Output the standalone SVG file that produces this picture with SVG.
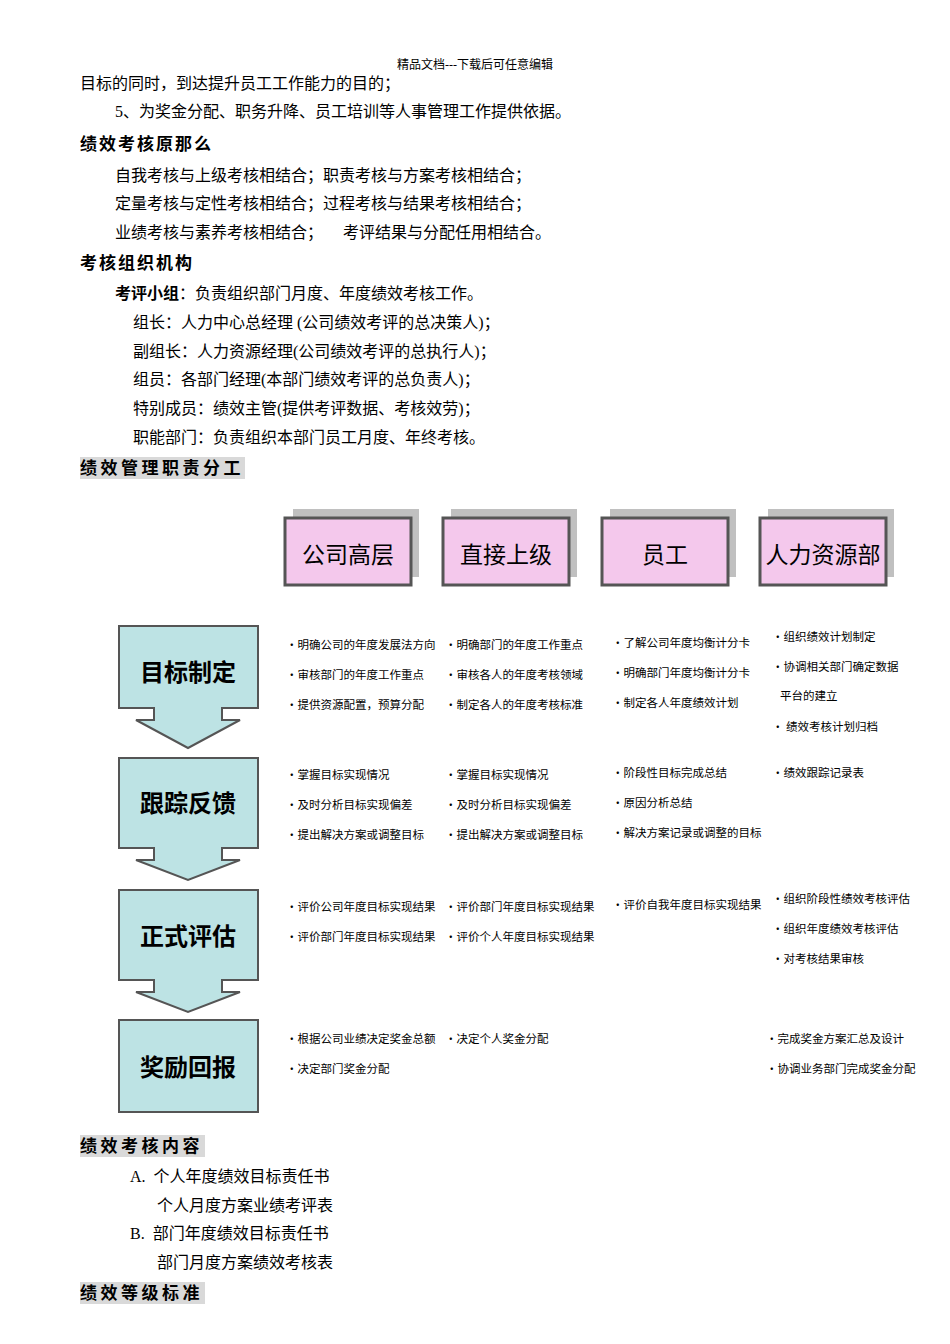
<svg xmlns="http://www.w3.org/2000/svg" width="950" height="1344" viewBox="0 0 950 1344">
<style>
.t{font-family:"Liberation Serif","Noto Sans CJK SC",serif;font-size:16px;fill:#000}
.h{font-family:"Noto Sans CJK SC",sans-serif;font-size:17px;font-weight:bold;fill:#000;letter-spacing:2px}
.s{font-family:"Noto Sans CJK SC",sans-serif;font-size:11.5px;fill:#000}
.hd{fill:#f4c8ec;stroke:#555;stroke-width:3}
.sh{fill:#c0c0c0}
.ht{font-family:"Noto Sans CJK SC",sans-serif;font-size:23px;fill:#000;text-anchor:middle}
.st{fill:#bde3e4;stroke:#555;stroke-width:2}
.sl{font-family:"Noto Sans CJK SC",sans-serif;font-size:24px;font-weight:bold;fill:#000;text-anchor:middle}
.hl{fill:#d9d9d9}
</style>
<text x="475" y="69" class="t" text-anchor="middle" style="font-size:12px">精品文档---下载后可任意编辑</text>
<text x="80" y="89" class="t">目标的同时，到达提升员工工作能力的目的；</text>
<text x="115" y="117" class="t">5、为奖金分配、职务升降、员工培训等人事管理工作提供依据。</text>
<text x="80" y="150" class="h">绩效考核原那么</text>
<text x="115" y="181" class="t">自我考核与上级考核相结合；职责考核与方案考核相结合；</text>
<text x="115" y="209" class="t">定量考核与定性考核相结合；过程考核与结果考核相结合；</text>
<text x="115" y="238" class="t" xml:space="preserve">业绩考核与素养考核相结合；     考评结果与分配任用相结合。</text>
<text x="80" y="269" class="h">考核组织机构</text>
<text x="115" y="299" class="t"><tspan font-weight="bold">考评小组</tspan>：负责组织部门月度、年度绩效考核工作。</text>
<text x="133" y="328" class="t">组长：人力中心总经理 (公司绩效考评的总决策人)；</text>
<text x="133" y="357" class="t">副组长：人力资源经理(公司绩效考评的总执行人)；</text>
<text x="133" y="385" class="t">组员：各部门经理(本部门绩效考评的总负责人)；</text>
<text x="133" y="414" class="t">特别成员：绩效主管(提供考评数据、考核效劳)；</text>
<text x="133" y="443" class="t">职能部门：负责组织本部门员工月度、年终考核。</text>
<rect class="hl" x="80" y="457" width="165" height="22"/>
<text x="80" y="474" class="h" style="letter-spacing:3.5px">绩效管理职责分工</text>

<g id="h1"><rect class="sh" x="293" y="509" width="126" height="68"/><rect class="hd" x="285" y="518" width="126" height="67"/><text class="ht" x="348" y="563">公司高层</text></g>
<g id="h2"><rect class="sh" x="451" y="509" width="126" height="68"/><rect class="hd" x="443" y="518" width="126" height="67"/><text class="ht" x="506" y="563">直接上级</text></g>
<g id="h3"><rect class="sh" x="610" y="509" width="126" height="68"/><rect class="hd" x="602" y="518" width="126" height="67"/><text class="ht" x="665" y="563">员工</text></g>
<g id="h4"><rect class="sh" x="768" y="509" width="126" height="68"/><rect class="hd" x="760" y="518" width="126" height="67"/><text class="ht" x="823" y="563">人力资源部</text></g>

<g id="s1"><path class="st" d="M119,626H258V708H222V720H240L188,748L136,720H154V708H119Z"/><text class="sl" x="188" y="681">目标制定</text></g>
<g id="s2"><path class="st" d="M119,758H258V848H222V860H240L188,880L136,860H154V848H119Z"/><text class="sl" x="188" y="812">跟踪反馈</text></g>
<g id="s3"><path class="st" d="M119,890H258V980H222V992H240L188,1012L136,992H154V980H119Z"/><text class="sl" x="188" y="945">正式评估</text></g>
<g id="s4"><rect class="st" x="119" y="1020" width="139" height="92"/><text class="sl" x="188" y="1076">奖励回报</text></g>
<g id="connectors"/>

<g id="c1">
<text class="s" x="286" y="649">·明确公司的年度发展法方向</text>
<text class="s" x="286" y="679">·审核部门的年度工作重点</text>
<text class="s" x="286" y="709">·提供资源配置，预算分配</text>
<text class="s" x="445" y="649">·明确部门的年度工作重点</text>
<text class="s" x="445" y="679">·审核各人的年度考核领域</text>
<text class="s" x="445" y="709">·制定各人的年度考核标准</text>
<text class="s" x="612" y="647">·了解公司年度均衡计分卡</text>
<text class="s" x="612" y="677">·明确部门年度均衡计分卡</text>
<text class="s" x="612" y="707">·制定各人年度绩效计划</text>
<text class="s" x="772" y="641">·组织绩效计划制定</text>
<text class="s" x="772" y="671">·协调相关部门确定数据</text>
<text class="s" x="780" y="700">平台的建立</text>
<text class="s" x="772" y="731">· 绩效考核计划归档</text>
</g>
<g id="c2">
<text class="s" x="286" y="779">·掌握目标实现情况</text>
<text class="s" x="286" y="809">·及时分析目标实现偏差</text>
<text class="s" x="286" y="839">·提出解决方案或调整目标</text>
<text class="s" x="445" y="779">·掌握目标实现情况</text>
<text class="s" x="445" y="809">·及时分析目标实现偏差</text>
<text class="s" x="445" y="839">·提出解决方案或调整目标</text>
<text class="s" x="612" y="777">·阶段性目标完成总结</text>
<text class="s" x="612" y="807">·原因分析总结</text>
<text class="s" x="612" y="837">·解决方案记录或调整的目标</text>
<text class="s" x="772" y="777">·绩效跟踪记录表</text>
</g>
<g id="c3">
<text class="s" x="286" y="911">·评价公司年度目标实现结果</text>
<text class="s" x="286" y="941">·评价部门年度目标实现结果</text>
<text class="s" x="445" y="911">·评价部门年度目标实现结果</text>
<text class="s" x="445" y="941">·评价个人年度目标实现结果</text>
<text class="s" x="612" y="909">·评价自我年度目标实现结果</text>
<text class="s" x="772" y="903">·组织阶段性绩效考核评估</text>
<text class="s" x="772" y="933">·组织年度绩效考核评估</text>
<text class="s" x="772" y="963">·对考核结果审核</text>
</g>
<g id="c4">
<text class="s" x="286" y="1043">·根据公司业绩决定奖金总额</text>
<text class="s" x="286" y="1073">·决定部门奖金分配</text>
<text class="s" x="445" y="1043">·决定个人奖金分配</text>
<text class="s" x="766" y="1043">·完成奖金方案汇总及设计</text>
<text class="s" x="766" y="1073">·协调业务部门完成奖金分配</text>
</g>

<rect class="hl" x="80" y="1135" width="125" height="22"/>
<text x="80" y="1152" class="h" style="letter-spacing:3.5px">绩效考核内容</text>
<text x="130" y="1182" class="t" xml:space="preserve">A.  个人年度绩效目标责任书</text>
<text x="157" y="1211" class="t">个人月度方案业绩考评表</text>
<text x="130" y="1239" class="t" xml:space="preserve">B.  部门年度绩效目标责任书</text>
<text x="157" y="1268" class="t">部门月度方案绩效考核表</text>
<rect class="hl" x="80" y="1282" width="125" height="22"/>
<text x="80" y="1299" class="h" style="letter-spacing:3.5px">绩效等级标准</text>
</svg>
